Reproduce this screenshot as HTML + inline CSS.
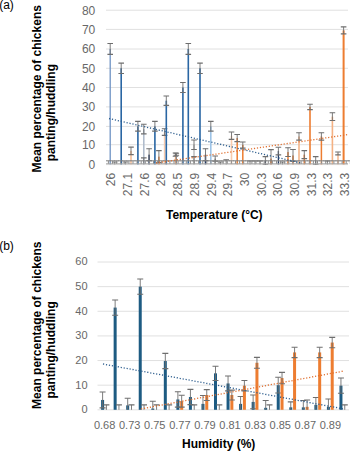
<!DOCTYPE html>
<html><head><meta charset="utf-8"><title>Chart</title>
<style>
html,body{margin:0;padding:0;background:#fff;width:350px;height:451px;overflow:hidden}
svg{display:block;font-family:"Liberation Sans", sans-serif}
</style></head><body>
<svg width="350" height="451" viewBox="0 0 350 451">
<defs>
<clipPath id="clipA"><rect x="104" y="0" width="246" height="164.5"/></clipPath>
<clipPath id="clipB"><rect x="96" y="250" width="254" height="160.3"/></clipPath>
</defs>
<line x1="106" y1="164.60" x2="348" y2="164.60" stroke="#d9d9d9" stroke-width="1"/>
<text x="95.3" y="169.00" font-size="12" fill="#686868" text-anchor="end">0</text>
<line x1="106" y1="144.70" x2="348" y2="144.70" stroke="#e0e0e0" stroke-width="1"/>
<text x="95.3" y="149.10" font-size="12" fill="#686868" text-anchor="end">10</text>
<line x1="106" y1="126.40" x2="348" y2="126.40" stroke="#e0e0e0" stroke-width="1"/>
<text x="95.3" y="130.80" font-size="12" fill="#686868" text-anchor="end">20</text>
<line x1="106" y1="106.90" x2="348" y2="106.90" stroke="#e0e0e0" stroke-width="1"/>
<text x="95.3" y="111.30" font-size="12" fill="#686868" text-anchor="end">30</text>
<line x1="106" y1="87.50" x2="348" y2="87.50" stroke="#e0e0e0" stroke-width="1"/>
<text x="95.3" y="91.90" font-size="12" fill="#686868" text-anchor="end">40</text>
<line x1="106" y1="68.30" x2="348" y2="68.30" stroke="#e0e0e0" stroke-width="1"/>
<text x="95.3" y="72.70" font-size="12" fill="#686868" text-anchor="end">50</text>
<line x1="106" y1="49.00" x2="348" y2="49.00" stroke="#e0e0e0" stroke-width="1"/>
<text x="95.3" y="53.40" font-size="12" fill="#686868" text-anchor="end">60</text>
<line x1="106" y1="29.40" x2="348" y2="29.40" stroke="#e0e0e0" stroke-width="1"/>
<text x="95.3" y="33.80" font-size="12" fill="#686868" text-anchor="end">70</text>
<line x1="106" y1="10.20" x2="348" y2="10.20" stroke="#e0e0e0" stroke-width="1"/>
<text x="95.3" y="14.60" font-size="12" fill="#686868" text-anchor="end">80</text>
<g clip-path="url(#clipA)">
<rect x="109.55" y="49.00" width="1.30" height="115.60" fill="#6f93c4"/><line x1="110.20" y1="43.51" x2="110.20" y2="54.40" stroke="#6e6e6e" stroke-width="0.9"/><line x1="107.40" y1="43.51" x2="113.00" y2="43.51" stroke="#6e6e6e" stroke-width="1.1"/><line x1="107.40" y1="54.40" x2="113.00" y2="54.40" stroke="#6e6e6e" stroke-width="1.1"/>
<line x1="114.70" y1="162.01" x2="114.70" y2="164.60" stroke="#6e6e6e" stroke-width="0.9"/><line x1="111.90" y1="162.01" x2="117.50" y2="162.01" stroke="#6e6e6e" stroke-width="1.1"/>
<rect x="120.40" y="68.30" width="1.60" height="96.30" fill="#2a66a3"/><line x1="121.20" y1="63.09" x2="121.20" y2="73.48" stroke="#6e6e6e" stroke-width="0.9"/><line x1="118.40" y1="63.09" x2="124.00" y2="63.09" stroke="#6e6e6e" stroke-width="1.1"/><line x1="118.40" y1="73.48" x2="124.00" y2="73.48" stroke="#6e6e6e" stroke-width="1.1"/>
<line x1="125.40" y1="162.01" x2="125.40" y2="164.60" stroke="#6e6e6e" stroke-width="0.9"/><line x1="122.60" y1="162.01" x2="128.20" y2="162.01" stroke="#6e6e6e" stroke-width="1.1"/>
<rect x="130.35" y="150.87" width="1.30" height="13.73" fill="#f4b183"/><line x1="131.00" y1="147.09" x2="131.00" y2="154.65" stroke="#6e6e6e" stroke-width="0.9"/><line x1="128.20" y1="147.09" x2="133.80" y2="147.09" stroke="#6e6e6e" stroke-width="1.1"/><line x1="128.20" y1="154.65" x2="133.80" y2="154.65" stroke="#6e6e6e" stroke-width="1.1"/>
<rect x="137.10" y="126.40" width="1.60" height="38.20" fill="#2a66a3"/><line x1="137.90" y1="121.33" x2="137.90" y2="131.16" stroke="#6e6e6e" stroke-width="0.9"/><line x1="135.10" y1="121.33" x2="140.70" y2="121.33" stroke="#6e6e6e" stroke-width="1.1"/><line x1="135.10" y1="131.16" x2="140.70" y2="131.16" stroke="#6e6e6e" stroke-width="1.1"/>
<rect x="143.05" y="129.15" width="1.50" height="35.45" fill="#adb9ca"/><line x1="143.80" y1="124.26" x2="143.80" y2="133.90" stroke="#6e6e6e" stroke-width="0.9"/><line x1="141.00" y1="124.26" x2="146.60" y2="124.26" stroke="#6e6e6e" stroke-width="1.1"/><line x1="141.00" y1="133.90" x2="146.60" y2="133.90" stroke="#6e6e6e" stroke-width="1.1"/>
<line x1="143.80" y1="157.83" x2="143.80" y2="164.60" stroke="#6e6e6e" stroke-width="0.9"/><line x1="141.00" y1="157.83" x2="146.60" y2="157.83" stroke="#6e6e6e" stroke-width="1.1"/>
<rect x="148.35" y="154.65" width="1.50" height="9.95" fill="#203864"/><line x1="149.10" y1="148.68" x2="149.10" y2="160.62" stroke="#6e6e6e" stroke-width="0.9"/><line x1="146.30" y1="148.68" x2="151.90" y2="148.68" stroke="#6e6e6e" stroke-width="1.1"/><line x1="146.30" y1="160.62" x2="151.90" y2="160.62" stroke="#6e6e6e" stroke-width="1.1"/>
<rect x="154.10" y="126.40" width="1.60" height="38.20" fill="#2a66a3"/><line x1="154.90" y1="121.33" x2="154.90" y2="131.16" stroke="#6e6e6e" stroke-width="0.9"/><line x1="152.10" y1="121.33" x2="157.70" y2="121.33" stroke="#6e6e6e" stroke-width="1.1"/><line x1="152.10" y1="131.16" x2="157.70" y2="131.16" stroke="#6e6e6e" stroke-width="1.1"/>
<rect x="158.20" y="156.64" width="1.40" height="7.96" fill="#ed7d31"/><line x1="158.90" y1="150.67" x2="158.90" y2="162.61" stroke="#6e6e6e" stroke-width="0.9"/><line x1="156.10" y1="150.67" x2="161.70" y2="150.67" stroke="#6e6e6e" stroke-width="1.1"/><line x1="156.10" y1="162.61" x2="161.70" y2="162.61" stroke="#6e6e6e" stroke-width="1.1"/>
<rect x="163.85" y="132.07" width="1.50" height="32.53" fill="#f8cbad"/><line x1="164.60" y1="128.78" x2="164.60" y2="135.37" stroke="#6e6e6e" stroke-width="0.9"/><line x1="161.80" y1="128.78" x2="167.40" y2="128.78" stroke="#6e6e6e" stroke-width="1.1"/><line x1="161.80" y1="135.37" x2="167.40" y2="135.37" stroke="#6e6e6e" stroke-width="1.1"/>
<rect x="165.50" y="100.69" width="1.60" height="63.91" fill="#2a66a3"/><line x1="166.30" y1="96.04" x2="166.30" y2="105.35" stroke="#6e6e6e" stroke-width="0.9"/><line x1="163.50" y1="96.04" x2="169.10" y2="96.04" stroke="#6e6e6e" stroke-width="1.1"/><line x1="163.50" y1="105.35" x2="169.10" y2="105.35" stroke="#6e6e6e" stroke-width="1.1"/>
<rect x="174.85" y="154.65" width="1.30" height="9.95" fill="#f4b183"/><line x1="175.50" y1="153.06" x2="175.50" y2="156.24" stroke="#6e6e6e" stroke-width="0.9"/><line x1="172.70" y1="153.06" x2="178.30" y2="153.06" stroke="#6e6e6e" stroke-width="1.1"/><line x1="172.70" y1="156.24" x2="178.30" y2="156.24" stroke="#6e6e6e" stroke-width="1.1"/>
<rect x="175.70" y="154.25" width="1.20" height="10.35" fill="#7f7f7f"/><line x1="176.30" y1="153.26" x2="176.30" y2="155.25" stroke="#6e6e6e" stroke-width="0.9"/><line x1="173.50" y1="153.26" x2="179.10" y2="153.26" stroke="#6e6e6e" stroke-width="1.1"/><line x1="173.50" y1="155.25" x2="179.10" y2="155.25" stroke="#6e6e6e" stroke-width="1.1"/>
<rect x="182.10" y="87.50" width="1.60" height="77.10" fill="#2a66a3"/><line x1="182.90" y1="82.51" x2="182.90" y2="92.54" stroke="#6e6e6e" stroke-width="0.9"/><line x1="180.10" y1="82.51" x2="185.70" y2="82.51" stroke="#6e6e6e" stroke-width="1.1"/><line x1="180.10" y1="92.54" x2="185.70" y2="92.54" stroke="#6e6e6e" stroke-width="1.1"/>
<rect x="187.50" y="49.00" width="1.60" height="115.60" fill="#2a66a3"/><line x1="188.30" y1="43.51" x2="188.30" y2="54.40" stroke="#6e6e6e" stroke-width="0.9"/><line x1="185.50" y1="43.51" x2="191.10" y2="43.51" stroke="#6e6e6e" stroke-width="1.1"/><line x1="185.50" y1="54.40" x2="191.10" y2="54.40" stroke="#6e6e6e" stroke-width="1.1"/>
<rect x="193.25" y="144.52" width="1.50" height="20.08" fill="#bfbfbf"/><line x1="194.00" y1="139.94" x2="194.00" y2="149.48" stroke="#6e6e6e" stroke-width="0.9"/><line x1="191.20" y1="139.94" x2="196.80" y2="139.94" stroke="#6e6e6e" stroke-width="1.1"/><line x1="191.20" y1="149.48" x2="196.80" y2="149.48" stroke="#6e6e6e" stroke-width="1.1"/>
<line x1="194.00" y1="156.64" x2="194.00" y2="164.60" stroke="#6e6e6e" stroke-width="0.9"/><line x1="191.20" y1="156.64" x2="196.80" y2="156.64" stroke="#6e6e6e" stroke-width="1.1"/>
<rect x="199.20" y="68.30" width="1.60" height="96.30" fill="#2a66a3"/><line x1="200.00" y1="63.09" x2="200.00" y2="73.48" stroke="#6e6e6e" stroke-width="0.9"/><line x1="197.20" y1="63.09" x2="202.80" y2="63.09" stroke="#6e6e6e" stroke-width="1.1"/><line x1="197.20" y1="73.48" x2="202.80" y2="73.48" stroke="#6e6e6e" stroke-width="1.1"/>
<rect x="204.75" y="154.65" width="1.50" height="9.95" fill="#203864"/><line x1="205.50" y1="148.68" x2="205.50" y2="160.62" stroke="#6e6e6e" stroke-width="0.9"/><line x1="202.70" y1="148.68" x2="208.30" y2="148.68" stroke="#6e6e6e" stroke-width="1.1"/><line x1="202.70" y1="160.62" x2="208.30" y2="160.62" stroke="#6e6e6e" stroke-width="1.1"/>
<rect x="210.00" y="126.40" width="1.60" height="38.20" fill="#9dc3e6"/><line x1="210.80" y1="121.33" x2="210.80" y2="131.16" stroke="#6e6e6e" stroke-width="0.9"/><line x1="208.00" y1="121.33" x2="213.60" y2="121.33" stroke="#6e6e6e" stroke-width="1.1"/><line x1="208.00" y1="131.16" x2="213.60" y2="131.16" stroke="#6e6e6e" stroke-width="1.1"/>
<rect x="214.55" y="158.63" width="1.30" height="5.97" fill="#7f7f7f"/><line x1="215.20" y1="156.04" x2="215.20" y2="161.22" stroke="#6e6e6e" stroke-width="0.9"/><line x1="212.40" y1="156.04" x2="218.00" y2="156.04" stroke="#6e6e6e" stroke-width="1.1"/><line x1="212.40" y1="161.22" x2="218.00" y2="161.22" stroke="#6e6e6e" stroke-width="1.1"/>
<line x1="220.50" y1="162.01" x2="220.50" y2="164.60" stroke="#6e6e6e" stroke-width="0.9"/><line x1="217.70" y1="162.01" x2="223.30" y2="162.01" stroke="#6e6e6e" stroke-width="1.1"/>
<line x1="226.20" y1="159.82" x2="226.20" y2="164.60" stroke="#6e6e6e" stroke-width="0.9"/><line x1="223.40" y1="159.82" x2="229.00" y2="159.82" stroke="#6e6e6e" stroke-width="1.1"/>
<rect x="230.70" y="135.73" width="1.60" height="28.87" fill="#f8cbad"/><line x1="231.50" y1="132.07" x2="231.50" y2="139.39" stroke="#6e6e6e" stroke-width="0.9"/><line x1="228.70" y1="132.07" x2="234.30" y2="132.07" stroke="#6e6e6e" stroke-width="1.1"/><line x1="228.70" y1="139.39" x2="234.30" y2="139.39" stroke="#6e6e6e" stroke-width="1.1"/>
<rect x="236.45" y="138.02" width="1.50" height="26.58" fill="#ed7d31"/><line x1="237.20" y1="134.45" x2="237.20" y2="141.59" stroke="#6e6e6e" stroke-width="0.9"/><line x1="234.40" y1="134.45" x2="240.00" y2="134.45" stroke="#6e6e6e" stroke-width="1.1"/><line x1="234.40" y1="141.59" x2="240.00" y2="141.59" stroke="#6e6e6e" stroke-width="1.1"/>

<rect x="242.05" y="144.90" width="1.50" height="19.70" fill="#ed7d31"/><line x1="242.80" y1="141.95" x2="242.80" y2="148.08" stroke="#6e6e6e" stroke-width="0.9"/><line x1="240.00" y1="141.95" x2="245.60" y2="141.95" stroke="#6e6e6e" stroke-width="1.1"/><line x1="240.00" y1="148.08" x2="245.60" y2="148.08" stroke="#6e6e6e" stroke-width="1.1"/>
<line x1="250.00" y1="161.02" x2="250.00" y2="164.60" stroke="#6e6e6e" stroke-width="0.9"/><line x1="247.20" y1="161.02" x2="252.80" y2="161.02" stroke="#6e6e6e" stroke-width="1.1"/>
<line x1="255.00" y1="161.02" x2="255.00" y2="164.60" stroke="#6e6e6e" stroke-width="0.9"/><line x1="252.20" y1="161.02" x2="257.80" y2="161.02" stroke="#6e6e6e" stroke-width="1.1"/>
<line x1="260.00" y1="161.02" x2="260.00" y2="164.60" stroke="#6e6e6e" stroke-width="0.9"/><line x1="257.20" y1="161.02" x2="262.80" y2="161.02" stroke="#6e6e6e" stroke-width="1.1"/>
<rect x="264.75" y="160.62" width="1.30" height="3.98" fill="#203864"/><line x1="265.40" y1="156.64" x2="265.40" y2="164.60" stroke="#6e6e6e" stroke-width="0.9"/><line x1="262.60" y1="156.64" x2="268.20" y2="156.64" stroke="#6e6e6e" stroke-width="1.1"/><line x1="262.60" y1="164.60" x2="268.20" y2="164.60" stroke="#6e6e6e" stroke-width="1.1"/>
<rect x="270.25" y="158.63" width="1.50" height="5.97" fill="#ed7d31"/><line x1="271.00" y1="149.67" x2="271.00" y2="164.60" stroke="#6e6e6e" stroke-width="0.9"/><line x1="268.20" y1="149.67" x2="273.80" y2="149.67" stroke="#6e6e6e" stroke-width="1.1"/>
<rect x="277.75" y="151.07" width="1.30" height="13.53" fill="#203864"/><line x1="278.40" y1="147.29" x2="278.40" y2="154.85" stroke="#6e6e6e" stroke-width="0.9"/><line x1="275.60" y1="147.29" x2="281.20" y2="147.29" stroke="#6e6e6e" stroke-width="1.1"/><line x1="275.60" y1="154.85" x2="281.20" y2="154.85" stroke="#6e6e6e" stroke-width="1.1"/>
<line x1="282.50" y1="162.01" x2="282.50" y2="164.60" stroke="#6e6e6e" stroke-width="0.9"/><line x1="279.70" y1="162.01" x2="285.30" y2="162.01" stroke="#6e6e6e" stroke-width="1.1"/>
<rect x="287.25" y="152.06" width="1.50" height="12.54" fill="#ed7d31"/><line x1="288.00" y1="147.69" x2="288.00" y2="156.44" stroke="#6e6e6e" stroke-width="0.9"/><line x1="285.20" y1="147.69" x2="290.80" y2="147.69" stroke="#6e6e6e" stroke-width="1.1"/><line x1="285.20" y1="156.44" x2="290.80" y2="156.44" stroke="#6e6e6e" stroke-width="1.1"/>
<rect x="292.25" y="155.45" width="1.50" height="9.15" fill="#ed7d31"/><line x1="293.00" y1="149.48" x2="293.00" y2="161.42" stroke="#6e6e6e" stroke-width="0.9"/><line x1="290.20" y1="149.48" x2="295.80" y2="149.48" stroke="#6e6e6e" stroke-width="1.1"/><line x1="290.20" y1="161.42" x2="295.80" y2="161.42" stroke="#6e6e6e" stroke-width="1.1"/>
<rect x="298.25" y="136.47" width="1.50" height="28.13" fill="#f4b183"/><line x1="299.00" y1="132.81" x2="299.00" y2="140.12" stroke="#6e6e6e" stroke-width="0.9"/><line x1="296.20" y1="132.81" x2="301.80" y2="132.81" stroke="#6e6e6e" stroke-width="1.1"/><line x1="296.20" y1="140.12" x2="301.80" y2="140.12" stroke="#6e6e6e" stroke-width="1.1"/>
<rect x="303.55" y="154.65" width="1.50" height="9.95" fill="#ed7d31"/><line x1="304.30" y1="150.67" x2="304.30" y2="158.63" stroke="#6e6e6e" stroke-width="0.9"/><line x1="301.50" y1="150.67" x2="307.10" y2="150.67" stroke="#6e6e6e" stroke-width="1.1"/><line x1="301.50" y1="158.63" x2="307.10" y2="158.63" stroke="#6e6e6e" stroke-width="1.1"/>
<rect x="309.20" y="106.90" width="1.60" height="57.70" fill="#ed7d31"/><line x1="310.00" y1="104.18" x2="310.00" y2="109.63" stroke="#6e6e6e" stroke-width="0.9"/><line x1="307.20" y1="104.18" x2="312.80" y2="104.18" stroke="#6e6e6e" stroke-width="1.1"/><line x1="307.20" y1="109.63" x2="312.80" y2="109.63" stroke="#6e6e6e" stroke-width="1.1"/>
<rect x="315.10" y="160.62" width="1.20" height="3.98" fill="#7f7f7f"/><line x1="315.70" y1="156.64" x2="315.70" y2="164.60" stroke="#6e6e6e" stroke-width="0.9"/><line x1="312.90" y1="156.64" x2="318.50" y2="156.64" stroke="#6e6e6e" stroke-width="1.1"/><line x1="312.90" y1="164.60" x2="318.50" y2="164.60" stroke="#6e6e6e" stroke-width="1.1"/>
<rect x="320.65" y="136.47" width="1.50" height="28.13" fill="#ed7d31"/><line x1="321.40" y1="132.81" x2="321.40" y2="140.12" stroke="#6e6e6e" stroke-width="0.9"/><line x1="318.60" y1="132.81" x2="324.20" y2="132.81" stroke="#6e6e6e" stroke-width="1.1"/><line x1="318.60" y1="140.12" x2="324.20" y2="140.12" stroke="#6e6e6e" stroke-width="1.1"/>
<line x1="327.40" y1="161.02" x2="327.40" y2="164.60" stroke="#6e6e6e" stroke-width="0.9"/><line x1="324.60" y1="161.02" x2="330.20" y2="161.02" stroke="#6e6e6e" stroke-width="1.1"/>
<rect x="331.60" y="116.65" width="1.60" height="47.95" fill="#f4b183"/><line x1="332.40" y1="112.75" x2="332.40" y2="120.55" stroke="#6e6e6e" stroke-width="0.9"/><line x1="329.60" y1="112.75" x2="335.20" y2="112.75" stroke="#6e6e6e" stroke-width="1.1"/><line x1="329.60" y1="120.55" x2="335.20" y2="120.55" stroke="#6e6e6e" stroke-width="1.1"/>
<rect x="337.30" y="153.46" width="1.40" height="11.14" fill="#f4b183"/><line x1="338.00" y1="152.06" x2="338.00" y2="154.85" stroke="#6e6e6e" stroke-width="0.9"/><line x1="335.20" y1="152.06" x2="340.80" y2="152.06" stroke="#6e6e6e" stroke-width="1.1"/><line x1="335.20" y1="154.85" x2="340.80" y2="154.85" stroke="#6e6e6e" stroke-width="1.1"/>
<rect x="342.60" y="30.38" width="2.00" height="134.22" fill="#ed7d31"/><line x1="343.60" y1="26.90" x2="343.60" y2="33.91" stroke="#6e6e6e" stroke-width="0.9"/><line x1="340.80" y1="26.90" x2="346.40" y2="26.90" stroke="#6e6e6e" stroke-width="1.1"/><line x1="340.80" y1="33.91" x2="346.40" y2="33.91" stroke="#6e6e6e" stroke-width="1.1"/>
<line x1="106.00" y1="160.8" x2="110.80" y2="160.8" stroke="#808080" stroke-width="1.0"/>
<line x1="108.40" y1="160.8" x2="108.40" y2="164" stroke="#8c8c8c" stroke-width="1"/>
<line x1="110.10" y1="160.8" x2="114.90" y2="160.8" stroke="#808080" stroke-width="1.0"/>
<line x1="112.50" y1="160.8" x2="112.50" y2="164" stroke="#8c8c8c" stroke-width="1"/>
<line x1="114.20" y1="160.8" x2="119.00" y2="160.8" stroke="#808080" stroke-width="1.0"/>
<line x1="116.60" y1="160.8" x2="116.60" y2="164" stroke="#8c8c8c" stroke-width="1"/>
<line x1="118.30" y1="160.8" x2="123.10" y2="160.8" stroke="#808080" stroke-width="1.0"/>
<line x1="120.70" y1="160.8" x2="120.70" y2="164" stroke="#8c8c8c" stroke-width="1"/>
<line x1="122.40" y1="160.8" x2="127.20" y2="160.8" stroke="#808080" stroke-width="1.0"/>
<line x1="124.80" y1="160.8" x2="124.80" y2="164" stroke="#8c8c8c" stroke-width="1"/>
<line x1="126.50" y1="160.8" x2="131.30" y2="160.8" stroke="#808080" stroke-width="1.0"/>
<line x1="128.90" y1="160.8" x2="128.90" y2="164" stroke="#8c8c8c" stroke-width="1"/>
<line x1="130.60" y1="160.8" x2="135.40" y2="160.8" stroke="#808080" stroke-width="1.0"/>
<line x1="133.00" y1="160.8" x2="133.00" y2="164" stroke="#8c8c8c" stroke-width="1"/>
<line x1="134.70" y1="160.8" x2="139.50" y2="160.8" stroke="#808080" stroke-width="1.0"/>
<line x1="137.10" y1="160.8" x2="137.10" y2="164" stroke="#8c8c8c" stroke-width="1"/>
<line x1="138.80" y1="160.8" x2="143.60" y2="160.8" stroke="#808080" stroke-width="1.0"/>
<line x1="141.20" y1="160.8" x2="141.20" y2="164" stroke="#8c8c8c" stroke-width="1"/>
<line x1="142.90" y1="160.8" x2="147.70" y2="160.8" stroke="#808080" stroke-width="1.0"/>
<line x1="145.30" y1="160.8" x2="145.30" y2="164" stroke="#8c8c8c" stroke-width="1"/>
<line x1="147.00" y1="160.8" x2="151.80" y2="160.8" stroke="#808080" stroke-width="1.0"/>
<line x1="149.40" y1="160.8" x2="149.40" y2="164" stroke="#8c8c8c" stroke-width="1"/>
<line x1="151.10" y1="160.8" x2="155.90" y2="160.8" stroke="#808080" stroke-width="1.0"/>
<line x1="153.50" y1="160.8" x2="153.50" y2="164" stroke="#8c8c8c" stroke-width="1"/>
<line x1="155.20" y1="160.8" x2="160.00" y2="160.8" stroke="#808080" stroke-width="1.0"/>
<line x1="157.60" y1="160.8" x2="157.60" y2="164" stroke="#8c8c8c" stroke-width="1"/>
<line x1="159.30" y1="160.8" x2="164.10" y2="160.8" stroke="#808080" stroke-width="1.0"/>
<line x1="161.70" y1="160.8" x2="161.70" y2="164" stroke="#8c8c8c" stroke-width="1"/>
<line x1="163.40" y1="160.8" x2="168.20" y2="160.8" stroke="#808080" stroke-width="1.0"/>
<line x1="165.80" y1="160.8" x2="165.80" y2="164" stroke="#8c8c8c" stroke-width="1"/>
<line x1="167.50" y1="160.8" x2="172.30" y2="160.8" stroke="#808080" stroke-width="1.0"/>
<line x1="169.90" y1="160.8" x2="169.90" y2="164" stroke="#8c8c8c" stroke-width="1"/>
<line x1="171.60" y1="160.8" x2="176.40" y2="160.8" stroke="#808080" stroke-width="1.0"/>
<line x1="174.00" y1="160.8" x2="174.00" y2="164" stroke="#8c8c8c" stroke-width="1"/>
<line x1="175.70" y1="160.8" x2="180.50" y2="160.8" stroke="#808080" stroke-width="1.0"/>
<line x1="178.10" y1="160.8" x2="178.10" y2="164" stroke="#8c8c8c" stroke-width="1"/>
<line x1="179.80" y1="160.8" x2="184.60" y2="160.8" stroke="#808080" stroke-width="1.0"/>
<line x1="182.20" y1="160.8" x2="182.20" y2="164" stroke="#8c8c8c" stroke-width="1"/>
<line x1="183.90" y1="160.8" x2="188.70" y2="160.8" stroke="#808080" stroke-width="1.0"/>
<line x1="186.30" y1="160.8" x2="186.30" y2="164" stroke="#8c8c8c" stroke-width="1"/>
<line x1="188.00" y1="160.8" x2="192.80" y2="160.8" stroke="#808080" stroke-width="1.0"/>
<line x1="190.40" y1="160.8" x2="190.40" y2="164" stroke="#8c8c8c" stroke-width="1"/>
<line x1="192.10" y1="160.8" x2="196.90" y2="160.8" stroke="#808080" stroke-width="1.0"/>
<line x1="194.50" y1="160.8" x2="194.50" y2="164" stroke="#8c8c8c" stroke-width="1"/>
<line x1="196.20" y1="160.8" x2="201.00" y2="160.8" stroke="#808080" stroke-width="1.0"/>
<line x1="198.60" y1="160.8" x2="198.60" y2="164" stroke="#8c8c8c" stroke-width="1"/>
<line x1="200.30" y1="160.8" x2="205.10" y2="160.8" stroke="#808080" stroke-width="1.0"/>
<line x1="202.70" y1="160.8" x2="202.70" y2="164" stroke="#8c8c8c" stroke-width="1"/>
<line x1="204.40" y1="160.8" x2="209.20" y2="160.8" stroke="#808080" stroke-width="1.0"/>
<line x1="206.80" y1="160.8" x2="206.80" y2="164" stroke="#8c8c8c" stroke-width="1"/>
<line x1="208.50" y1="160.8" x2="213.30" y2="160.8" stroke="#808080" stroke-width="1.0"/>
<line x1="210.90" y1="160.8" x2="210.90" y2="164" stroke="#8c8c8c" stroke-width="1"/>
<line x1="212.60" y1="160.8" x2="217.40" y2="160.8" stroke="#808080" stroke-width="1.0"/>
<line x1="215.00" y1="160.8" x2="215.00" y2="164" stroke="#8c8c8c" stroke-width="1"/>
<line x1="216.70" y1="160.8" x2="221.50" y2="160.8" stroke="#808080" stroke-width="1.0"/>
<line x1="219.10" y1="160.8" x2="219.10" y2="164" stroke="#8c8c8c" stroke-width="1"/>
<line x1="220.80" y1="160.8" x2="225.60" y2="160.8" stroke="#808080" stroke-width="1.0"/>
<line x1="223.20" y1="160.8" x2="223.20" y2="164" stroke="#8c8c8c" stroke-width="1"/>
<line x1="224.90" y1="160.8" x2="229.70" y2="160.8" stroke="#808080" stroke-width="1.0"/>
<line x1="227.30" y1="160.8" x2="227.30" y2="164" stroke="#8c8c8c" stroke-width="1"/>
<line x1="229.00" y1="160.8" x2="233.80" y2="160.8" stroke="#808080" stroke-width="1.0"/>
<line x1="231.40" y1="160.8" x2="231.40" y2="164" stroke="#8c8c8c" stroke-width="1"/>
<line x1="233.10" y1="160.8" x2="237.90" y2="160.8" stroke="#808080" stroke-width="1.0"/>
<line x1="235.50" y1="160.8" x2="235.50" y2="164" stroke="#8c8c8c" stroke-width="1"/>
<line x1="237.20" y1="160.8" x2="242.00" y2="160.8" stroke="#808080" stroke-width="1.0"/>
<line x1="239.60" y1="160.8" x2="239.60" y2="164" stroke="#8c8c8c" stroke-width="1"/>
<line x1="241.30" y1="160.8" x2="246.10" y2="160.8" stroke="#808080" stroke-width="1.0"/>
<line x1="243.70" y1="160.8" x2="243.70" y2="164" stroke="#8c8c8c" stroke-width="1"/>
<line x1="245.40" y1="160.8" x2="250.20" y2="160.8" stroke="#808080" stroke-width="1.0"/>
<line x1="247.80" y1="160.8" x2="247.80" y2="164" stroke="#8c8c8c" stroke-width="1"/>
<line x1="249.50" y1="160.8" x2="254.30" y2="160.8" stroke="#808080" stroke-width="1.0"/>
<line x1="251.90" y1="160.8" x2="251.90" y2="164" stroke="#8c8c8c" stroke-width="1"/>
<line x1="253.60" y1="160.8" x2="258.40" y2="160.8" stroke="#808080" stroke-width="1.0"/>
<line x1="256.00" y1="160.8" x2="256.00" y2="164" stroke="#8c8c8c" stroke-width="1"/>
<line x1="257.70" y1="160.8" x2="262.50" y2="160.8" stroke="#808080" stroke-width="1.0"/>
<line x1="260.10" y1="160.8" x2="260.10" y2="164" stroke="#8c8c8c" stroke-width="1"/>
<line x1="261.80" y1="160.8" x2="266.60" y2="160.8" stroke="#808080" stroke-width="1.0"/>
<line x1="264.20" y1="160.8" x2="264.20" y2="164" stroke="#8c8c8c" stroke-width="1"/>
<line x1="265.90" y1="160.8" x2="270.70" y2="160.8" stroke="#808080" stroke-width="1.0"/>
<line x1="268.30" y1="160.8" x2="268.30" y2="164" stroke="#8c8c8c" stroke-width="1"/>
<line x1="270.00" y1="160.8" x2="274.80" y2="160.8" stroke="#808080" stroke-width="1.0"/>
<line x1="272.40" y1="160.8" x2="272.40" y2="164" stroke="#8c8c8c" stroke-width="1"/>
<line x1="274.10" y1="160.8" x2="278.90" y2="160.8" stroke="#808080" stroke-width="1.0"/>
<line x1="276.50" y1="160.8" x2="276.50" y2="164" stroke="#8c8c8c" stroke-width="1"/>
<line x1="278.20" y1="160.8" x2="283.00" y2="160.8" stroke="#808080" stroke-width="1.0"/>
<line x1="280.60" y1="160.8" x2="280.60" y2="164" stroke="#8c8c8c" stroke-width="1"/>
<line x1="282.30" y1="160.8" x2="287.10" y2="160.8" stroke="#808080" stroke-width="1.0"/>
<line x1="284.70" y1="160.8" x2="284.70" y2="164" stroke="#8c8c8c" stroke-width="1"/>
<line x1="286.40" y1="160.8" x2="291.20" y2="160.8" stroke="#808080" stroke-width="1.0"/>
<line x1="288.80" y1="160.8" x2="288.80" y2="164" stroke="#8c8c8c" stroke-width="1"/>
<line x1="290.50" y1="160.8" x2="295.30" y2="160.8" stroke="#808080" stroke-width="1.0"/>
<line x1="292.90" y1="160.8" x2="292.90" y2="164" stroke="#8c8c8c" stroke-width="1"/>
<line x1="294.60" y1="160.8" x2="299.40" y2="160.8" stroke="#808080" stroke-width="1.0"/>
<line x1="297.00" y1="160.8" x2="297.00" y2="164" stroke="#8c8c8c" stroke-width="1"/>
<line x1="298.70" y1="160.8" x2="303.50" y2="160.8" stroke="#808080" stroke-width="1.0"/>
<line x1="301.10" y1="160.8" x2="301.10" y2="164" stroke="#8c8c8c" stroke-width="1"/>
<line x1="302.80" y1="160.8" x2="307.60" y2="160.8" stroke="#808080" stroke-width="1.0"/>
<line x1="305.20" y1="160.8" x2="305.20" y2="164" stroke="#8c8c8c" stroke-width="1"/>
<line x1="306.90" y1="160.8" x2="311.70" y2="160.8" stroke="#808080" stroke-width="1.0"/>
<line x1="309.30" y1="160.8" x2="309.30" y2="164" stroke="#8c8c8c" stroke-width="1"/>
<line x1="311.00" y1="160.8" x2="315.80" y2="160.8" stroke="#808080" stroke-width="1.0"/>
<line x1="313.40" y1="160.8" x2="313.40" y2="164" stroke="#8c8c8c" stroke-width="1"/>
<line x1="315.10" y1="160.8" x2="319.90" y2="160.8" stroke="#808080" stroke-width="1.0"/>
<line x1="317.50" y1="160.8" x2="317.50" y2="164" stroke="#8c8c8c" stroke-width="1"/>
<line x1="319.20" y1="160.8" x2="324.00" y2="160.8" stroke="#808080" stroke-width="1.0"/>
<line x1="321.60" y1="160.8" x2="321.60" y2="164" stroke="#8c8c8c" stroke-width="1"/>
<line x1="323.30" y1="160.8" x2="328.10" y2="160.8" stroke="#808080" stroke-width="1.0"/>
<line x1="325.70" y1="160.8" x2="325.70" y2="164" stroke="#8c8c8c" stroke-width="1"/>
<line x1="327.40" y1="160.8" x2="332.20" y2="160.8" stroke="#808080" stroke-width="1.0"/>
<line x1="329.80" y1="160.8" x2="329.80" y2="164" stroke="#8c8c8c" stroke-width="1"/>
<line x1="331.50" y1="160.8" x2="336.30" y2="160.8" stroke="#808080" stroke-width="1.0"/>
<line x1="333.90" y1="160.8" x2="333.90" y2="164" stroke="#8c8c8c" stroke-width="1"/>
<line x1="335.60" y1="160.8" x2="340.40" y2="160.8" stroke="#808080" stroke-width="1.0"/>
<line x1="338.00" y1="160.8" x2="338.00" y2="164" stroke="#8c8c8c" stroke-width="1"/>
<line x1="339.70" y1="160.8" x2="344.50" y2="160.8" stroke="#808080" stroke-width="1.0"/>
<line x1="342.10" y1="160.8" x2="342.10" y2="164" stroke="#8c8c8c" stroke-width="1"/>
<line x1="343.80" y1="160.8" x2="348.60" y2="160.8" stroke="#808080" stroke-width="1.0"/>
<line x1="346.20" y1="160.8" x2="346.20" y2="164" stroke="#8c8c8c" stroke-width="1"/>
<line x1="347.90" y1="160.8" x2="352.70" y2="160.8" stroke="#808080" stroke-width="1.0"/>
<line x1="350.30" y1="160.8" x2="350.30" y2="164" stroke="#8c8c8c" stroke-width="1"/>
<line x1="106" y1="163.8" x2="348" y2="163.8" stroke="#a6a6a6" stroke-width="1"/>
<line x1="109" y1="118.5" x2="302" y2="163.2" stroke="#2f5f8f" stroke-width="1.3" stroke-dasharray="1.2 1.8"/>
<line x1="156" y1="163" x2="348" y2="134.6" stroke="#e07030" stroke-width="1.3" stroke-dasharray="1.2 1.8"/>
</g>
<text transform="translate(115.30,172.8) rotate(-90)" font-size="12" fill="#686868" text-anchor="end">26</text>
<text transform="translate(132.00,172.8) rotate(-90)" font-size="12" fill="#686868" text-anchor="end">27.1</text>
<text transform="translate(148.70,172.8) rotate(-90)" font-size="12" fill="#686868" text-anchor="end">27.6</text>
<text transform="translate(165.40,172.8) rotate(-90)" font-size="12" fill="#686868" text-anchor="end">28</text>
<text transform="translate(182.10,172.8) rotate(-90)" font-size="12" fill="#686868" text-anchor="end">28.5</text>
<text transform="translate(198.80,172.8) rotate(-90)" font-size="12" fill="#686868" text-anchor="end">28.9</text>
<text transform="translate(215.50,172.8) rotate(-90)" font-size="12" fill="#686868" text-anchor="end">29.4</text>
<text transform="translate(232.20,172.8) rotate(-90)" font-size="12" fill="#686868" text-anchor="end">29.7</text>
<text transform="translate(248.90,172.8) rotate(-90)" font-size="12" fill="#686868" text-anchor="end">30</text>
<text transform="translate(265.60,172.8) rotate(-90)" font-size="12" fill="#686868" text-anchor="end">30.3</text>
<text transform="translate(282.30,172.8) rotate(-90)" font-size="12" fill="#686868" text-anchor="end">30.6</text>
<text transform="translate(299.00,172.8) rotate(-90)" font-size="12" fill="#686868" text-anchor="end">30.9</text>
<text transform="translate(315.70,172.8) rotate(-90)" font-size="12" fill="#686868" text-anchor="end">31.3</text>
<text transform="translate(332.40,172.8) rotate(-90)" font-size="12" fill="#686868" text-anchor="end">32.3</text>
<text transform="translate(349.10,172.8) rotate(-90)" font-size="12" fill="#686868" text-anchor="end">33.3</text>
<text x="166.0" y="219.1" font-size="12" font-weight="bold" fill="#000">Temperature (°C)</text>
<text x="-0.8" y="9.0" font-size="12" fill="#000">(a)</text>
<text transform="translate(40.6,172.5) rotate(-90)" font-size="12" font-weight="bold" fill="#000">Mean percentage of chickens</text>
<text transform="translate(55.4,161.3) rotate(-90)" font-size="12" font-weight="bold" fill="#000">panting/huddling</text>
<line x1="97.5" y1="409.80" x2="349" y2="409.80" stroke="#e0e0e0" stroke-width="1"/>
<text x="87.6" y="413.20" font-size="11" fill="#686868" text-anchor="end">0</text>
<line x1="97.5" y1="385.17" x2="349" y2="385.17" stroke="#e0e0e0" stroke-width="1"/>
<text x="87.6" y="388.57" font-size="11" fill="#686868" text-anchor="end">10</text>
<line x1="97.5" y1="360.54" x2="349" y2="360.54" stroke="#e0e0e0" stroke-width="1"/>
<text x="87.6" y="363.94" font-size="11" fill="#686868" text-anchor="end">20</text>
<line x1="97.5" y1="335.91" x2="349" y2="335.91" stroke="#e0e0e0" stroke-width="1"/>
<text x="87.6" y="339.31" font-size="11" fill="#686868" text-anchor="end">30</text>
<line x1="97.5" y1="311.28" x2="349" y2="311.28" stroke="#e0e0e0" stroke-width="1"/>
<text x="87.6" y="314.68" font-size="11" fill="#686868" text-anchor="end">40</text>
<line x1="97.5" y1="286.65" x2="349" y2="286.65" stroke="#e0e0e0" stroke-width="1"/>
<text x="87.6" y="290.05" font-size="11" fill="#686868" text-anchor="end">50</text>
<line x1="97.5" y1="262.02" x2="349" y2="262.02" stroke="#e0e0e0" stroke-width="1"/>
<text x="87.6" y="265.42" font-size="11" fill="#686868" text-anchor="end">60</text>
<g clip-path="url(#clipB)">
<rect x="101.10" y="399.95" width="3.00" height="9.85" fill="#1d5b82"/><line x1="102.60" y1="392.07" x2="102.60" y2="407.83" stroke="#6e6e6e" stroke-width="0.9"/><line x1="99.60" y1="392.07" x2="105.60" y2="392.07" stroke="#6e6e6e" stroke-width="1.1"/><line x1="99.60" y1="407.83" x2="105.60" y2="407.83" stroke="#6e6e6e" stroke-width="1.1"/>
<line x1="106.40" y1="404.87" x2="106.40" y2="409.80" stroke="#6e6e6e" stroke-width="0.9"/><line x1="103.40" y1="404.87" x2="109.40" y2="404.87" stroke="#6e6e6e" stroke-width="1.1"/>
<rect x="113.64" y="307.59" width="3.00" height="102.21" fill="#1d5b82"/><line x1="115.14" y1="299.95" x2="115.14" y2="315.22" stroke="#6e6e6e" stroke-width="0.9"/><line x1="112.14" y1="299.95" x2="118.14" y2="299.95" stroke="#6e6e6e" stroke-width="1.1"/><line x1="112.14" y1="315.22" x2="118.14" y2="315.22" stroke="#6e6e6e" stroke-width="1.1"/>
<line x1="118.94" y1="404.87" x2="118.94" y2="409.80" stroke="#6e6e6e" stroke-width="0.9"/><line x1="115.94" y1="404.87" x2="121.94" y2="404.87" stroke="#6e6e6e" stroke-width="1.1"/>
<rect x="126.19" y="405.37" width="3.00" height="4.43" fill="#1d5b82"/><line x1="127.69" y1="398.22" x2="127.69" y2="409.80" stroke="#6e6e6e" stroke-width="0.9"/><line x1="124.69" y1="398.22" x2="130.69" y2="398.22" stroke="#6e6e6e" stroke-width="1.1"/>
<line x1="131.49" y1="404.87" x2="131.49" y2="409.80" stroke="#6e6e6e" stroke-width="0.9"/><line x1="128.49" y1="404.87" x2="134.49" y2="404.87" stroke="#6e6e6e" stroke-width="1.1"/>
<rect x="138.73" y="286.65" width="3.00" height="123.15" fill="#1d5b82"/><line x1="140.23" y1="279.01" x2="140.23" y2="294.29" stroke="#6e6e6e" stroke-width="0.9"/><line x1="137.23" y1="279.01" x2="143.23" y2="279.01" stroke="#6e6e6e" stroke-width="1.1"/><line x1="137.23" y1="294.29" x2="143.23" y2="294.29" stroke="#6e6e6e" stroke-width="1.1"/>
<line x1="144.03" y1="404.87" x2="144.03" y2="409.80" stroke="#6e6e6e" stroke-width="0.9"/><line x1="141.03" y1="404.87" x2="147.03" y2="404.87" stroke="#6e6e6e" stroke-width="1.1"/>
<rect x="151.28" y="408.57" width="3.00" height="1.23" fill="#1d5b82"/><line x1="152.78" y1="401.18" x2="152.78" y2="409.80" stroke="#6e6e6e" stroke-width="0.9"/><line x1="149.78" y1="401.18" x2="155.78" y2="401.18" stroke="#6e6e6e" stroke-width="1.1"/>
<line x1="156.58" y1="404.87" x2="156.58" y2="409.80" stroke="#6e6e6e" stroke-width="0.9"/><line x1="153.58" y1="404.87" x2="159.58" y2="404.87" stroke="#6e6e6e" stroke-width="1.1"/>
<rect x="163.82" y="361.03" width="3.00" height="48.77" fill="#1d5b82"/><line x1="165.32" y1="353.40" x2="165.32" y2="368.67" stroke="#6e6e6e" stroke-width="0.9"/><line x1="162.32" y1="353.40" x2="168.32" y2="353.40" stroke="#6e6e6e" stroke-width="1.1"/><line x1="162.32" y1="368.67" x2="168.32" y2="368.67" stroke="#6e6e6e" stroke-width="1.1"/>
<line x1="169.12" y1="404.87" x2="169.12" y2="409.80" stroke="#6e6e6e" stroke-width="0.9"/><line x1="166.12" y1="404.87" x2="172.12" y2="404.87" stroke="#6e6e6e" stroke-width="1.1"/>
<rect x="176.37" y="399.46" width="3.00" height="10.34" fill="#1d5b82"/><line x1="177.87" y1="391.82" x2="177.87" y2="407.09" stroke="#6e6e6e" stroke-width="0.9"/><line x1="174.87" y1="391.82" x2="180.87" y2="391.82" stroke="#6e6e6e" stroke-width="1.1"/><line x1="174.87" y1="407.09" x2="180.87" y2="407.09" stroke="#6e6e6e" stroke-width="1.1"/>
<rect x="180.17" y="401.18" width="3.00" height="8.62" fill="#ed7d31"/><line x1="181.67" y1="395.27" x2="181.67" y2="407.09" stroke="#6e6e6e" stroke-width="0.9"/><line x1="178.67" y1="395.27" x2="184.67" y2="395.27" stroke="#6e6e6e" stroke-width="1.1"/><line x1="178.67" y1="407.09" x2="184.67" y2="407.09" stroke="#6e6e6e" stroke-width="1.1"/>
<rect x="188.91" y="396.99" width="3.00" height="12.81" fill="#1d5b82"/><line x1="190.41" y1="389.36" x2="190.41" y2="404.63" stroke="#6e6e6e" stroke-width="0.9"/><line x1="187.41" y1="389.36" x2="193.41" y2="389.36" stroke="#6e6e6e" stroke-width="1.1"/><line x1="187.41" y1="404.63" x2="193.41" y2="404.63" stroke="#6e6e6e" stroke-width="1.1"/>
<line x1="194.22" y1="404.87" x2="194.22" y2="409.80" stroke="#6e6e6e" stroke-width="0.9"/><line x1="191.22" y1="404.87" x2="197.22" y2="404.87" stroke="#6e6e6e" stroke-width="1.1"/>
<rect x="201.46" y="403.89" width="3.00" height="5.91" fill="#1d5b82"/><line x1="202.96" y1="395.51" x2="202.96" y2="409.80" stroke="#6e6e6e" stroke-width="0.9"/><line x1="199.96" y1="395.51" x2="205.96" y2="395.51" stroke="#6e6e6e" stroke-width="1.1"/>
<rect x="205.26" y="395.02" width="3.00" height="14.78" fill="#ed7d31"/><line x1="206.76" y1="389.60" x2="206.76" y2="400.44" stroke="#6e6e6e" stroke-width="0.9"/><line x1="203.76" y1="389.60" x2="209.76" y2="389.60" stroke="#6e6e6e" stroke-width="1.1"/><line x1="203.76" y1="400.44" x2="209.76" y2="400.44" stroke="#6e6e6e" stroke-width="1.1"/>
<rect x="214.00" y="373.35" width="3.00" height="36.45" fill="#1d5b82"/><line x1="215.50" y1="366.20" x2="215.50" y2="380.49" stroke="#6e6e6e" stroke-width="0.9"/><line x1="212.50" y1="366.20" x2="218.50" y2="366.20" stroke="#6e6e6e" stroke-width="1.1"/><line x1="212.50" y1="380.49" x2="218.50" y2="380.49" stroke="#6e6e6e" stroke-width="1.1"/>
<line x1="219.31" y1="404.87" x2="219.31" y2="409.80" stroke="#6e6e6e" stroke-width="0.9"/><line x1="216.31" y1="404.87" x2="222.31" y2="404.87" stroke="#6e6e6e" stroke-width="1.1"/>
<rect x="226.55" y="383.45" width="3.00" height="26.35" fill="#1d5b82"/><line x1="228.05" y1="376.06" x2="228.05" y2="390.83" stroke="#6e6e6e" stroke-width="0.9"/><line x1="225.05" y1="376.06" x2="231.05" y2="376.06" stroke="#6e6e6e" stroke-width="1.1"/><line x1="225.05" y1="390.83" x2="231.05" y2="390.83" stroke="#6e6e6e" stroke-width="1.1"/>
<rect x="230.35" y="395.02" width="3.00" height="14.78" fill="#ed7d31"/><line x1="231.85" y1="390.10" x2="231.85" y2="399.95" stroke="#6e6e6e" stroke-width="0.9"/><line x1="228.85" y1="390.10" x2="234.85" y2="390.10" stroke="#6e6e6e" stroke-width="1.1"/><line x1="228.85" y1="399.95" x2="234.85" y2="399.95" stroke="#6e6e6e" stroke-width="1.1"/>
<rect x="239.09" y="403.89" width="3.00" height="5.91" fill="#1d5b82"/><line x1="240.59" y1="396.50" x2="240.59" y2="409.80" stroke="#6e6e6e" stroke-width="0.9"/><line x1="237.59" y1="396.50" x2="243.59" y2="396.50" stroke="#6e6e6e" stroke-width="1.1"/>
<rect x="242.90" y="385.66" width="3.00" height="24.14" fill="#ed7d31"/><line x1="244.40" y1="380.49" x2="244.40" y2="390.83" stroke="#6e6e6e" stroke-width="0.9"/><line x1="241.40" y1="380.49" x2="247.40" y2="380.49" stroke="#6e6e6e" stroke-width="1.1"/><line x1="241.40" y1="390.83" x2="247.40" y2="390.83" stroke="#6e6e6e" stroke-width="1.1"/>
<rect x="251.64" y="401.92" width="3.00" height="7.88" fill="#1d5b82"/><line x1="253.14" y1="395.02" x2="253.14" y2="408.81" stroke="#6e6e6e" stroke-width="0.9"/><line x1="250.14" y1="395.02" x2="256.14" y2="395.02" stroke="#6e6e6e" stroke-width="1.1"/><line x1="250.14" y1="408.81" x2="256.14" y2="408.81" stroke="#6e6e6e" stroke-width="1.1"/>
<rect x="255.44" y="362.76" width="3.00" height="47.04" fill="#ed7d31"/><line x1="256.94" y1="357.34" x2="256.94" y2="368.18" stroke="#6e6e6e" stroke-width="0.9"/><line x1="253.94" y1="357.34" x2="259.94" y2="357.34" stroke="#6e6e6e" stroke-width="1.1"/><line x1="253.94" y1="368.18" x2="259.94" y2="368.18" stroke="#6e6e6e" stroke-width="1.1"/>
<rect x="264.19" y="407.83" width="3.00" height="1.97" fill="#1d5b82"/><line x1="265.69" y1="400.44" x2="265.69" y2="409.80" stroke="#6e6e6e" stroke-width="0.9"/><line x1="262.69" y1="400.44" x2="268.69" y2="400.44" stroke="#6e6e6e" stroke-width="1.1"/>
<line x1="269.49" y1="404.87" x2="269.49" y2="409.80" stroke="#6e6e6e" stroke-width="0.9"/><line x1="266.49" y1="404.87" x2="272.49" y2="404.87" stroke="#6e6e6e" stroke-width="1.1"/>
<rect x="276.73" y="385.17" width="3.00" height="24.63" fill="#1d5b82"/><line x1="278.23" y1="377.29" x2="278.23" y2="393.05" stroke="#6e6e6e" stroke-width="0.9"/><line x1="275.23" y1="377.29" x2="281.23" y2="377.29" stroke="#6e6e6e" stroke-width="1.1"/><line x1="275.23" y1="393.05" x2="281.23" y2="393.05" stroke="#6e6e6e" stroke-width="1.1"/>
<rect x="280.53" y="378.03" width="3.00" height="31.77" fill="#ed7d31"/><line x1="282.03" y1="372.36" x2="282.03" y2="383.69" stroke="#6e6e6e" stroke-width="0.9"/><line x1="279.03" y1="372.36" x2="285.03" y2="372.36" stroke="#6e6e6e" stroke-width="1.1"/><line x1="279.03" y1="383.69" x2="285.03" y2="383.69" stroke="#6e6e6e" stroke-width="1.1"/>
<rect x="289.27" y="407.34" width="3.00" height="2.46" fill="#1d5b82"/><line x1="290.77" y1="401.92" x2="290.77" y2="409.80" stroke="#6e6e6e" stroke-width="0.9"/><line x1="287.77" y1="401.92" x2="293.77" y2="401.92" stroke="#6e6e6e" stroke-width="1.1"/>
<rect x="293.07" y="352.41" width="3.00" height="57.39" fill="#ed7d31"/><line x1="294.57" y1="347.24" x2="294.57" y2="357.58" stroke="#6e6e6e" stroke-width="0.9"/><line x1="291.57" y1="347.24" x2="297.57" y2="347.24" stroke="#6e6e6e" stroke-width="1.1"/><line x1="291.57" y1="357.58" x2="297.57" y2="357.58" stroke="#6e6e6e" stroke-width="1.1"/>
<rect x="301.82" y="407.34" width="3.00" height="2.46" fill="#1d5b82"/><line x1="303.32" y1="400.44" x2="303.32" y2="409.80" stroke="#6e6e6e" stroke-width="0.9"/><line x1="300.32" y1="400.44" x2="306.32" y2="400.44" stroke="#6e6e6e" stroke-width="1.1"/>
<rect x="305.62" y="406.84" width="3.00" height="2.96" fill="#ed7d31"/><line x1="307.12" y1="399.95" x2="307.12" y2="409.80" stroke="#6e6e6e" stroke-width="0.9"/><line x1="304.12" y1="399.95" x2="310.12" y2="399.95" stroke="#6e6e6e" stroke-width="1.1"/>
<rect x="314.37" y="404.87" width="3.00" height="4.93" fill="#1d5b82"/><line x1="315.87" y1="397.49" x2="315.87" y2="409.80" stroke="#6e6e6e" stroke-width="0.9"/><line x1="312.87" y1="397.49" x2="318.87" y2="397.49" stroke="#6e6e6e" stroke-width="1.1"/>
<rect x="318.17" y="352.41" width="3.00" height="57.39" fill="#ed7d31"/><line x1="319.67" y1="347.24" x2="319.67" y2="357.58" stroke="#6e6e6e" stroke-width="0.9"/><line x1="316.67" y1="347.24" x2="322.67" y2="347.24" stroke="#6e6e6e" stroke-width="1.1"/><line x1="316.67" y1="357.58" x2="322.67" y2="357.58" stroke="#6e6e6e" stroke-width="1.1"/>
<rect x="326.91" y="406.84" width="3.00" height="2.96" fill="#1d5b82"/><line x1="328.41" y1="398.96" x2="328.41" y2="409.80" stroke="#6e6e6e" stroke-width="0.9"/><line x1="325.41" y1="398.96" x2="331.41" y2="398.96" stroke="#6e6e6e" stroke-width="1.1"/>
<rect x="330.71" y="342.56" width="3.00" height="67.24" fill="#ed7d31"/><line x1="332.21" y1="337.39" x2="332.21" y2="347.73" stroke="#6e6e6e" stroke-width="0.9"/><line x1="329.21" y1="337.39" x2="335.21" y2="337.39" stroke="#6e6e6e" stroke-width="1.1"/><line x1="329.21" y1="347.73" x2="335.21" y2="347.73" stroke="#6e6e6e" stroke-width="1.1"/>
<rect x="339.45" y="385.66" width="3.00" height="24.14" fill="#1d5b82"/><line x1="340.95" y1="378.03" x2="340.95" y2="393.30" stroke="#6e6e6e" stroke-width="0.9"/><line x1="337.95" y1="378.03" x2="343.95" y2="378.03" stroke="#6e6e6e" stroke-width="1.1"/><line x1="337.95" y1="393.30" x2="343.95" y2="393.30" stroke="#6e6e6e" stroke-width="1.1"/>
<line x1="344.75" y1="404.87" x2="344.75" y2="409.80" stroke="#6e6e6e" stroke-width="0.9"/><line x1="341.75" y1="404.87" x2="347.75" y2="404.87" stroke="#6e6e6e" stroke-width="1.1"/>
<line x1="103" y1="364.0" x2="343" y2="408.8" stroke="#2f5f8f" stroke-width="1.3" stroke-dasharray="1.2 1.8"/>
<line x1="141" y1="408.9" x2="343" y2="371.2" stroke="#e07030" stroke-width="1.3" stroke-dasharray="1.2 1.8"/>
</g>
<text x="104.60" y="428.7" font-size="11" fill="#686868" text-anchor="middle">0.68</text>
<text x="129.69" y="428.7" font-size="11" fill="#686868" text-anchor="middle">0.73</text>
<text x="154.78" y="428.7" font-size="11" fill="#686868" text-anchor="middle">0.75</text>
<text x="179.87" y="428.7" font-size="11" fill="#686868" text-anchor="middle">0.77</text>
<text x="204.96" y="428.7" font-size="11" fill="#686868" text-anchor="middle">0.79</text>
<text x="230.05" y="428.7" font-size="11" fill="#686868" text-anchor="middle">0.81</text>
<text x="255.14" y="428.7" font-size="11" fill="#686868" text-anchor="middle">0.83</text>
<text x="280.23" y="428.7" font-size="11" fill="#686868" text-anchor="middle">0.85</text>
<text x="305.32" y="428.7" font-size="11" fill="#686868" text-anchor="middle">0.87</text>
<text x="330.41" y="428.7" font-size="11" fill="#686868" text-anchor="middle">0.89</text>
<text x="182.0" y="448.3" font-size="12" font-weight="bold" fill="#000">Humidity (%)</text>
<text x="-0.8" y="249.9" font-size="12" fill="#000">(b)</text>
<text transform="translate(40.8,408.9) rotate(-90)" font-size="12" font-weight="bold" fill="#000">Mean percentage of chickens</text>
<text transform="translate(55.0,398.6) rotate(-90)" font-size="12" font-weight="bold" fill="#000">panting/huddling</text>
</svg>
</body></html>
